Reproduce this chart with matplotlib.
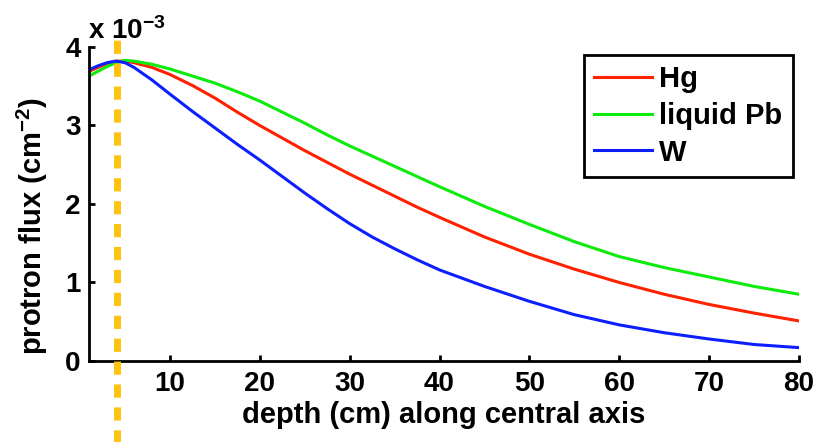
# Flujo de protones a lo largo del eje central
import matplotlib
matplotlib.use("Agg")
import matplotlib.pyplot as plt
import numpy as np

plt.rcParams['font.family'] = ['Liberation Sans', 'DejaVu Sans']
plt.rcParams['font.weight'] = 'bold'
plt.rcParams['axes.labelweight'] = 'bold'
plt.rcParams['mathtext.fontset'] = 'custom'
plt.rcParams['mathtext.rm'] = 'Liberation Sans:bold'
plt.rcParams['mathtext.it'] = 'Liberation Sans:bold'
plt.rcParams['mathtext.bf'] = 'Liberation Sans:bold'
plt.rcParams['mathtext.default'] = 'rm'

# datos (flujo en unidades de 1e-3 cm^-2)
depth = [1, 2, 3, 4, 5, 6, 8, 10, 12.5, 15, 17.5, 20, 22.5, 25, 27.5, 30,
         32.5, 35, 37.5, 40, 45, 50, 55, 60, 65, 70, 75, 80]
hg = [3.69, 3.74, 3.79, 3.82, 3.82, 3.80, 3.74, 3.65, 3.51, 3.35, 3.17,
      3.00, 2.84, 2.68, 2.53, 2.38, 2.24, 2.10, 1.96, 1.83, 1.58, 1.36,
      1.17, 1.00, 0.85, 0.72, 0.61, 0.51]
pb = [3.63, 3.69, 3.75, 3.80, 3.83, 3.82, 3.78, 3.72, 3.63, 3.54, 3.43,
      3.31, 3.17, 3.03, 2.88, 2.74, 2.61, 2.48, 2.35, 2.22, 1.97, 1.74,
      1.52, 1.33, 1.19, 1.07, 0.95, 0.85]
w = [3.71, 3.76, 3.80, 3.82, 3.80, 3.74, 3.58, 3.40, 3.18, 2.97, 2.76,
     2.56, 2.35, 2.14, 1.94, 1.75, 1.58, 1.43, 1.29, 1.16, 0.95, 0.76,
     0.59, 0.46, 0.36, 0.28, 0.21, 0.17]
labels = ['Hg', 'liquid Pb', 'W']
marker_depth = 4.15

fig = plt.figure(figsize=(8.19, 4.42), dpi=100)
ax = fig.add_axes([0.1087, 0.1833, 0.8669, 0.7104])

ax.plot(depth, hg, color=(1, 0.13, 0), lw=2.2, label=labels[0])
ax.plot(depth, pb, color=(0.05, 0.92, 0.05), lw=2.2, label=labels[1])
ax.plot(depth, w, color=(0.05, 0.12, 1), lw=2.2, label=labels[2])

# linea vertical discontinua (sale de los ejes)
ax.axvline(marker_depth, ymin=-0.45, ymax=1.05, color='#FFC20E', lw=5,
           dashes=(1.9, 1.4), clip_on=False, zorder=5)

ax.set_xlim(1, 80)
ax.set_ylim(0, 4)
ax.set_xticks([10, 20, 30, 40, 50, 60, 70, 80])
ax.set_yticks([0, 1, 2, 3, 4])
ax.spines['top'].set_visible(False)
ax.spines['right'].set_visible(False)
ax.spines['left'].set_linewidth(2)
ax.spines['bottom'].set_linewidth(2)
ax.tick_params(direction='in', length=4, width=2, labelsize=20)
ax.tick_params(axis='x', pad=7)
ax.tick_params(axis='y', pad=6)

ax.set_xlabel('depth (cm) along central axis', fontsize=21, labelpad=3)
ax.set_ylabel(r'protron flux (cm$^{-2}$)', fontsize=21)
ax.yaxis.set_label_coords(-0.055, 0.43)
fig.text(0.107, 0.93, r'x 10$^{-3}$', fontsize=20, va='center', ha='left')

leg = ax.legend(loc='upper right', bbox_to_anchor=(0.968, 0.876),
                bbox_transform=fig.transFigure, borderaxespad=0,
                fontsize=21, handlelength=2.0, handletextpad=0.25,
                labelspacing=0.3, borderpad=0.35,
                fancybox=False, framealpha=1)
leg.get_frame().set_edgecolor('black')
leg.get_frame().set_linewidth(2)

fig.savefig('out.png', dpi=100)
